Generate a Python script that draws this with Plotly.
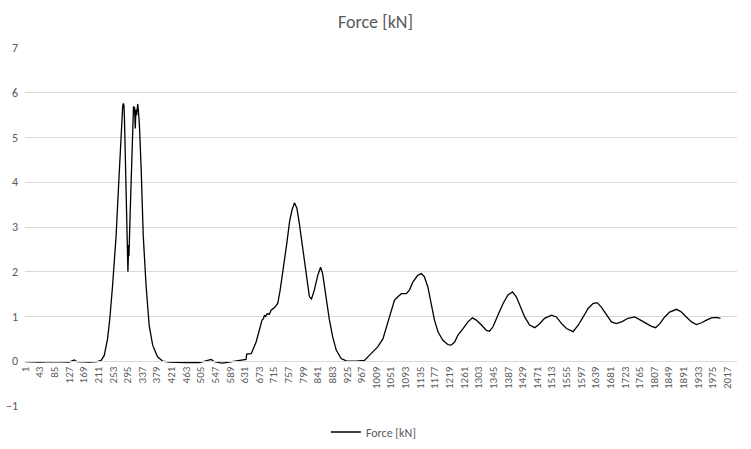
import plotly.graph_objects as go

# Category index (row number) and force values
cat_index = [
    1, 41, 84, 127, 142, 150, 185, 208, 219, 228, 237.5, 244, 252, 262, 269, 276, 281, 283, 284.5,
    286, 290, 292, 294, 296, 298, 299, 302, 306, 310, 312, 314, 315, 317, 319, 321, 324, 326,
    329, 334, 340, 348, 357, 367, 381, 396, 415, 458, 501, 535, 544, 567, 597, 625, 635, 637,
    650, 664, 673, 681, 685, 688, 691, 696, 702, 707, 717, 726, 733, 742, 752, 760, 767, 774,
    777, 781, 788, 798, 808, 817, 823, 831, 841, 849, 855, 865, 874, 884, 894, 908, 923, 951,
    975, 994, 1013, 1028, 1042, 1052, 1061, 1071, 1081, 1095, 1104, 1114, 1128, 1138, 1147,
    1157, 1167, 1176, 1186, 1200, 1215, 1224, 1234, 1243, 1258, 1272, 1285, 1296, 1311, 1325,
    1334, 1344, 1358, 1373, 1387, 1400, 1411, 1425, 1435, 1449, 1464, 1478, 1492, 1512, 1526,
    1541, 1555, 1574, 1589, 1603, 1617, 1631, 1643, 1655, 1670, 1684, 1698, 1713, 1732, 1751,
    1765, 1785, 1799, 1811, 1823, 1837, 1851, 1871, 1885, 1899, 1914, 1928, 1943, 1957, 1971,
    1986, 1997,
]
force_kn = [
    -0.01, -0.02, -0.01, -0.02, 0.03, -0.01, -0.02, -0.01, 0.02, 0.13, 0.5, 0.95, 1.7, 2.8, 3.9, 5.05, 5.7, 5.76, 5.72,
    5.43, 3.9, 2.8, 2.3, 2.0, 2.6, 2.35, 3.2, 4.3, 5.2, 5.7, 5.55, 5.68, 5.2, 5.62, 5.5, 5.75, 5.6,
    5.28, 4.3, 2.8, 1.7, 0.8, 0.36, 0.1, 0.0, -0.02, -0.03, -0.03, 0.04, -0.01, -0.04, 0.0, 0.03, 0.04, 0.16,
    0.17, 0.43, 0.69, 0.92, 0.95, 1.03, 1.0, 1.06, 1.05, 1.14, 1.2, 1.29, 1.59, 2.04, 2.63, 3.12, 3.38, 3.54,
    3.5, 3.42, 3.08, 2.48, 1.89, 1.44, 1.39, 1.59, 1.92, 2.1, 1.96, 1.44, 0.94, 0.54, 0.25, 0.06, 0.01, 0.0,
    0.02, 0.17, 0.32, 0.5, 0.88, 1.14, 1.36, 1.44, 1.51, 1.51, 1.59, 1.77, 1.92, 1.96, 1.89,
    1.66, 1.29, 0.92, 0.66, 0.47, 0.37, 0.36, 0.43, 0.58, 0.73, 0.88, 0.97, 0.92, 0.81, 0.69,
    0.67, 0.77, 1.03, 1.29, 1.48, 1.55, 1.44, 1.18, 0.99, 0.81, 0.75, 0.84, 0.96, 1.03, 0.99,
    0.84, 0.73, 0.66, 0.81, 0.99, 1.18, 1.29, 1.31, 1.21, 1.03, 0.88, 0.84, 0.88, 0.96, 0.99,
    0.93, 0.84, 0.78, 0.75, 0.84, 0.99, 1.1, 1.16, 1.1, 0.99, 0.88, 0.82, 0.86, 0.92, 0.97,
    0.98, 0.96,
]

tick_labels = ["1", "43", "85", "127", "169", "211", "253", "295", "337", "379", "421", "463",
               "505", "547", "589", "631", "673", "715", "757", "799", "841", "883", "925", "967",
               "1009", "1051", "1093", "1135", "1177", "1219", "1261", "1303", "1345", "1387",
               "1429", "1471", "1513", "1555", "1597", "1639", "1681", "1723", "1765", "1807",
               "1849", "1891", "1933", "1975", "2017"]
tick_positions = [int(t) for t in tick_labels]
n_categories = 2044

FONT = "Calibri, Carlito, Lato, sans-serif"
TXT = "#595959"
GRID = "#d9d9d9"

fig = go.Figure()
fig.add_trace(go.Scatter(
    x=cat_index, y=force_kn, mode="lines", name="Force [kN]",
    line=dict(color="#000000", width=1.3),
))

plot_t, plot_b = 48, 43
plot_h = 449 - plot_t - plot_b
zero_pos = (0 - (-1)) / (7 - (-1))

fig.update_layout(
    width=751, height=449,
    margin=dict(l=25, r=14, t=plot_t, b=plot_b, pad=0, autoexpand=False),
    paper_bgcolor="white", plot_bgcolor="white",
    font=dict(family=FONT, color=TXT, size=10),
    title=dict(text="Force [kN]", x=0.5, xanchor="center", y=1 - 22 / 449, yanchor="middle",
               font=dict(family=FONT, size=18, color=TXT)),
    showlegend=True,
    legend=dict(orientation="h", x=0.49, xanchor="center", y=-26 / plot_h, yanchor="middle",
                font=dict(family=FONT, size=12, color=TXT), bgcolor="rgba(0,0,0,0)"),
    xaxis=dict(
        range=[0.5, n_categories + 0.5],
        tickmode="array", tickvals=tick_positions, ticktext=tick_labels,
        tickangle=-90, tickfont=dict(family=FONT, size=11, color=TXT),
        showgrid=False, zeroline=False, automargin=False,
        showline=True, linecolor=GRID, linewidth=1,
        anchor="free", position=zero_pos, ticks="",
    ),
    yaxis=dict(
        range=[-1, 7], tickmode="array", tickvals=[-1, 0, 1, 2, 3, 4, 5, 6, 7],
        showgrid=True, gridcolor=GRID, gridwidth=1, automargin=False,
        zeroline=False, showline=False, ticks="", ticklabelstandoff=6,
        tickfont=dict(family=FONT, size=12, color=TXT),
    ),
)

fig.write_html("out.html", config={"displayModeBar": False},
               post_script="document.body.style.margin='0';")
